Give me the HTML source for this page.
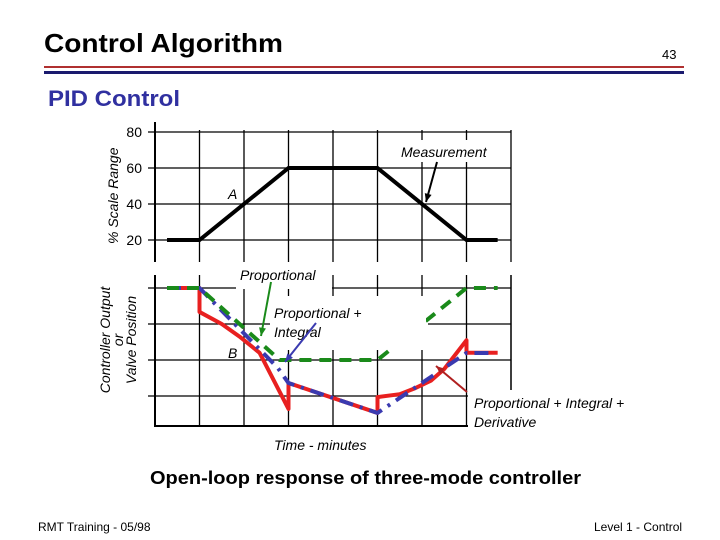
<!DOCTYPE html>
<html><head><meta charset="utf-8"><style>
html,body{margin:0;padding:0;background:#fff;}
svg{display:block;font-family:"Liberation Sans",Arial,sans-serif;}
</style></head><body>
<svg id="c" width="720" height="540" viewBox="0 0 720 540">
<text x="44" y="52" font-size="26" font-weight="bold" fill="#000" textLength="239" lengthAdjust="spacingAndGlyphs">Control Algorithm</text>
<text x="662" y="59" font-size="13" fill="#000">43</text>
<rect x="44" y="66" width="640" height="2" fill="#b03030"/>
<rect x="44" y="71" width="640" height="3" fill="#1a1a6e"/>
<text x="48" y="106" font-size="22" font-weight="bold" fill="#3030a0" textLength="132" lengthAdjust="spacingAndGlyphs">PID Control</text>
<g id="gtop"></g>
<g id="gbot"></g>
<g id="gann"></g>
<text x="150" y="484" font-size="18" font-weight="bold" fill="#000" textLength="431" lengthAdjust="spacingAndGlyphs">Open-loop response of three-mode controller</text>
<text x="38" y="531" font-size="12" fill="#000">RMT Training -  05/98</text>
<text x="594" y="531" font-size="12" fill="#000">Level 1 - Control</text>
</svg>
<script>
const timeTicks=[1,2,3,4,5,6,7,8];
const yTickLabels=[80,60,40,20];
const measT=[0.27,1,3,5,7,7.7];
const measV=[20,20,60,60,20,20];
const pidT=[0.27,1,1,1.5,1.9,2.35,3,3,5,5,5.5,5.85,6.2,6.5,7,7,7.7];
const pidV=[80,80,66.7,60,53,44,12.8,27.2,10.6,19.4,21,24.4,28.5,35,51,44,44];
const piT=[0.27,1,2.76,3,5,7,7.5];
const piV=[80,80,35.6,27.2,10.6,43.9,43.9];
const pT=[0.27,1,2.8,5,7,7.7];
const pV=[80,80,40,40,80,80];

const NS="http://www.w3.org/2000/svg";
const X0=155,XW=44.5;
const xs=t=>X0+t*XW;
const yTop=v=>240-(v-20)*1.8;
const yBot=v=>288+(80-v)*1.8;
function mk(p,tag,a){const e=document.createElementNS(NS,tag);for(const k in a)e.setAttribute(k,a[k]);p.appendChild(e);return e;}
const gTop=document.getElementById('gtop'),gBot=document.getElementById('gbot'),gAnn=document.getElementById('gann');

timeTicks.forEach(t=>{const l=mk(gTop,'line',{x1:xs(t),x2:xs(t),y1:130,y2:262,stroke:'#000','stroke-width':1.3});

});
yTickLabels.forEach(v=>{const l=mk(gTop,'line',{x1:148,x2:xs(8),y1:yTop(v),y2:yTop(v),stroke:'#000','stroke-width':1.3});


const tx=mk(gTop,'text',{x:142,y:yTop(v)+5,'font-size':14,'text-anchor':'end'});tx.textContent=v;

});
const ta=mk(gTop,'line',{x1:155,x2:155,y1:122,y2:262,stroke:'#000','stroke-width':2});


const yt=mk(gTop,'text',{transform:'translate(118,244) rotate(-90)','font-size':14,'font-style':'italic'});yt.textContent='% Scale Range';


const mp=mk(gTop,'polyline',{points:measT.map((t,i)=>xs(t)+','+yTop(measV[i])).join(' '),fill:'none',stroke:'#000','stroke-width':4});



timeTicks.forEach(t=>{const l=mk(gBot,'line',{x1:xs(t),x2:xs(t),y1:275,y2:426,stroke:'#000','stroke-width':1.3});

});
yTickLabels.forEach(v=>{const l=mk(gBot,'line',{x1:148,x2:xs(8),y1:yBot(v),y2:yBot(v),stroke:'#000','stroke-width':1.3});

});
const ba=mk(gBot,'polyline',{points:'155,275 155,426 '+xs(8)+',426',fill:'none',stroke:'#000','stroke-width':2});


const bt=mk(gBot,'text',{transform:'translate(110,340) rotate(-90)','font-size':14,'font-style':'italic','text-anchor':'middle'});


['Controller Output','or','Valve Position'].forEach((s,i)=>{const ts=mk(bt,'tspan',{x:0,dy:i?13:0});ts.textContent=s;});

[[236,263,96,26],[270,296,158,54],[468,390,200,42],[398,140,104,22],[270,434,116,20]].forEach(r=>{
const b=mk(gAnn,'rect',{x:r[0],y:r[1],width:r[2],height:r[3],fill:'#fff'});

});

function series(T,V,col,w,dash,name){const p=mk(gAnn,'polyline',{points:T.map((t,i)=>xs(t)+','+yBot(V[i])).join(' '),fill:'none',stroke:col,'stroke-width':w,'stroke-dasharray':dash,'stroke-linejoin':'round'});

return p;}
series(pidT,pidV,'#e82020',4,'none','pid-output-line');
series(piT,piV,'#3a3ab0',4,'14,7,3,7','pi-output-line');
series(pT,pV,'#1a8a1a',4,'12,8','p-output-line');
const hide=mk(gAnn,'rect',{x:380,y:300,width:46,height:48,fill:'#fff'});



function lbl(x,y,s,name){const t=mk(gAnn,'text',{x:x,y:y,'font-size':14,'font-style':'italic'});t.textContent=s;

}
lbl(240,280,'Proportional','label-proportional');
lbl(274,318,'Proportional +','label-pi-line1');
lbl(274,337,'Integral','label-pi-line2');
lbl(474,408,'Proportional + Integral +','label-pid-line1');
lbl(474,427,'Derivative','label-pid-line2');
lbl(401,157,'Measurement','label-measurement');
lbl(228,199,'A','label-a');
lbl(228,358,'B','label-b');
lbl(274,450,'Time - minutes','x-axis-title');
function arrow(x1,y1,x2,y2,col,name){const l=mk(gAnn,'line',{x1:x1,y1:y1,x2:x2,y2:y2,stroke:col,'stroke-width':2});


const a=Math.atan2(y2-y1,x2-x1),s=9;
const h=mk(gAnn,'polygon',{points:`${x2},${y2} ${x2-s*Math.cos(a-0.4)},${y2-s*Math.sin(a-0.4)} ${x2-s*Math.cos(a+0.4)},${y2-s*Math.sin(a+0.4)}`,fill:col});

}
arrow(271,282,261,336,'#1a8a1a','proportional-arrow');
arrow(316,323,285,362,'#3a3ab0','pi-arrow');
arrow(467,392,436,366,'#b02020','pid-arrow');
arrow(437,162,426,202,'#000','measurement-arrow');
const rb=mk(gBot,'line',{x1:xs(8),x2:xs(8),y1:275,y2:390,stroke:'#000','stroke-width':1.3});


</script>
</body></html>
